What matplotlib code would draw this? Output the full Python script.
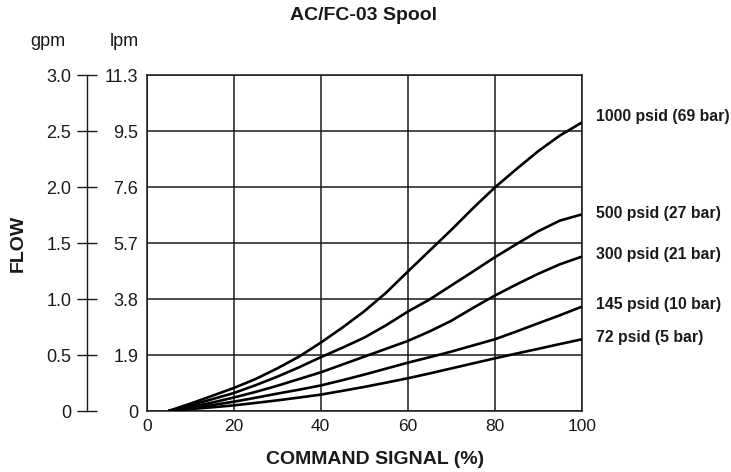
import matplotlib
matplotlib.use("Agg")
import matplotlib.pyplot as plt

plt.rcParams['font.family'] = ['Liberation Sans', 'DejaVu Sans']

# ---- data ----
signal = [5, 10, 15, 20, 25, 30, 35, 40, 45, 50, 55, 60, 65, 70, 75, 80, 85, 90, 95, 100]
flow_1000 = [0, 0.065, 0.135, 0.205, 0.285, 0.38, 0.485, 0.61, 0.745, 0.89, 1.055, 1.244,
             1.43, 1.616, 1.81, 1.995, 2.16, 2.32, 2.46, 2.575]
flow_500 = [0, 0.05, 0.105, 0.16, 0.23, 0.306, 0.39, 0.48, 0.565, 0.655, 0.765, 0.887,
            0.995, 1.12, 1.245, 1.372, 1.49, 1.605, 1.70, 1.755]
flow_300 = [0, 0.035, 0.075, 0.12, 0.17, 0.225, 0.285, 0.345, 0.415, 0.485, 0.555, 0.625,
            0.71, 0.805, 0.92, 1.03, 1.13, 1.225, 1.31, 1.378]
flow_145 = [0, 0.025, 0.052, 0.083, 0.118, 0.155, 0.19, 0.228, 0.275, 0.325, 0.378, 0.431,
            0.48, 0.53, 0.585, 0.64, 0.71, 0.783, 0.855, 0.931]
flow_72 = [0, 0.017, 0.033, 0.05, 0.072, 0.095, 0.12, 0.146, 0.18, 0.215, 0.253, 0.292,
           0.335, 0.38, 0.425, 0.47, 0.513, 0.555, 0.598, 0.64]
series_labels = ["1000 psid (69 bar)", "500 psid (27 bar)", "300 psid (21 bar)",
                 "145 psid (10 bar)", "72 psid (5 bar)"]
label_gpm = [2.625, 1.759, 1.393, 0.955, 0.654]  # vertical anchor of each right-hand label (gpm)

x_ticks = [0, 20, 40, 60, 80, 100]
gpm_ticks = [0, 0.5, 1.0, 1.5, 2.0, 2.5, 3.0]
gpm_labels = ["0", "0.5", "1.0", "1.5", "2.0", "2.5", "3.0"]
lpm_labels = ["0", "1.9", "3.8", "5.7", "7.6", "9.5", "11.3"]

# ---- layout ----
W, H = 731, 472
fig = plt.figure(figsize=(W / 100, H / 100), dpi=100)
L, R, T, B = 146.7, 581.7, 75, 411
ink = '#1a1a1a'

ax = fig.add_axes([L / W, 1 - B / H, (R - L) / W, (B - T) / H])
ax.set_xlim(0, 100)
ax.set_ylim(0, 3)
ax.set_xticks(x_ticks)
ax.set_xticklabels([str(v) for v in x_ticks])
ax.set_yticks(gpm_ticks)
ax.set_yticklabels(lpm_labels)
ax.tick_params(axis='x', length=0, pad=6, labelsize=12.5, colors=ink)
ax.tick_params(axis='y', length=0, pad=6, labelsize=13, colors=ink)
ax.grid(True, color=ink, lw=1.1)
for s in ax.spines.values():
    s.set_color(ink)
    s.set_linewidth(1.1)

for ys in [flow_1000, flow_500, flow_300, flow_145, flow_72]:
    ax.plot(signal, ys, color='black', lw=1.9, solid_capstyle='butt', zorder=3)

for lab, yv in zip(series_labels, label_gpm):
    ax.annotate(lab, xy=(100, yv), xycoords='data', xytext=(10.3, 0), textcoords='offset points',
                ha='left', va='center', fontsize=11.4, fontweight='bold', color=ink,
                annotation_clip=False)

# gpm axis
ax2 = fig.add_axes([87 / W, 1 - B / H, 0.0001, (B - T) / H])
ax2.set_ylim(0, 3)
ax2.set_xticks([])
ax2.set_yticks(gpm_ticks)
ax2.set_yticklabels(gpm_labels)
for k in ['top', 'right', 'bottom']:
    ax2.spines[k].set_visible(False)
ax2.spines['left'].set_color(ink)
ax2.spines['left'].set_linewidth(1.0)
ax2.patch.set_visible(False)
ax2.tick_params(axis='y', direction='inout', length=14.4, width=1.0, pad=4, labelsize=13, colors=ink)

fig.text(48 / W, 1 - 42 / H, "gpm", ha='center', va='center', fontsize=13, color=ink)
fig.text(124 / W, 1 - 42 / H, "lpm", ha='center', va='center', fontsize=13, color=ink)
fig.text(18 / W, 1 - 243 / H, "FLOW", rotation=90, ha='center', va='center', fontsize=14,
         fontweight='bold', color=ink)
fig.text(375 / W, 1 - 460 / H, "COMMAND SIGNAL (%)", ha='center', va='center', fontsize=14,
         fontweight='bold', color=ink)
fig.text(363 / W, 1 - 15 / H, "AC/FC-03 Spool", ha='center', va='center', fontsize=14,
         fontweight='bold', color=ink)

fig.savefig("out.png", dpi=100)
